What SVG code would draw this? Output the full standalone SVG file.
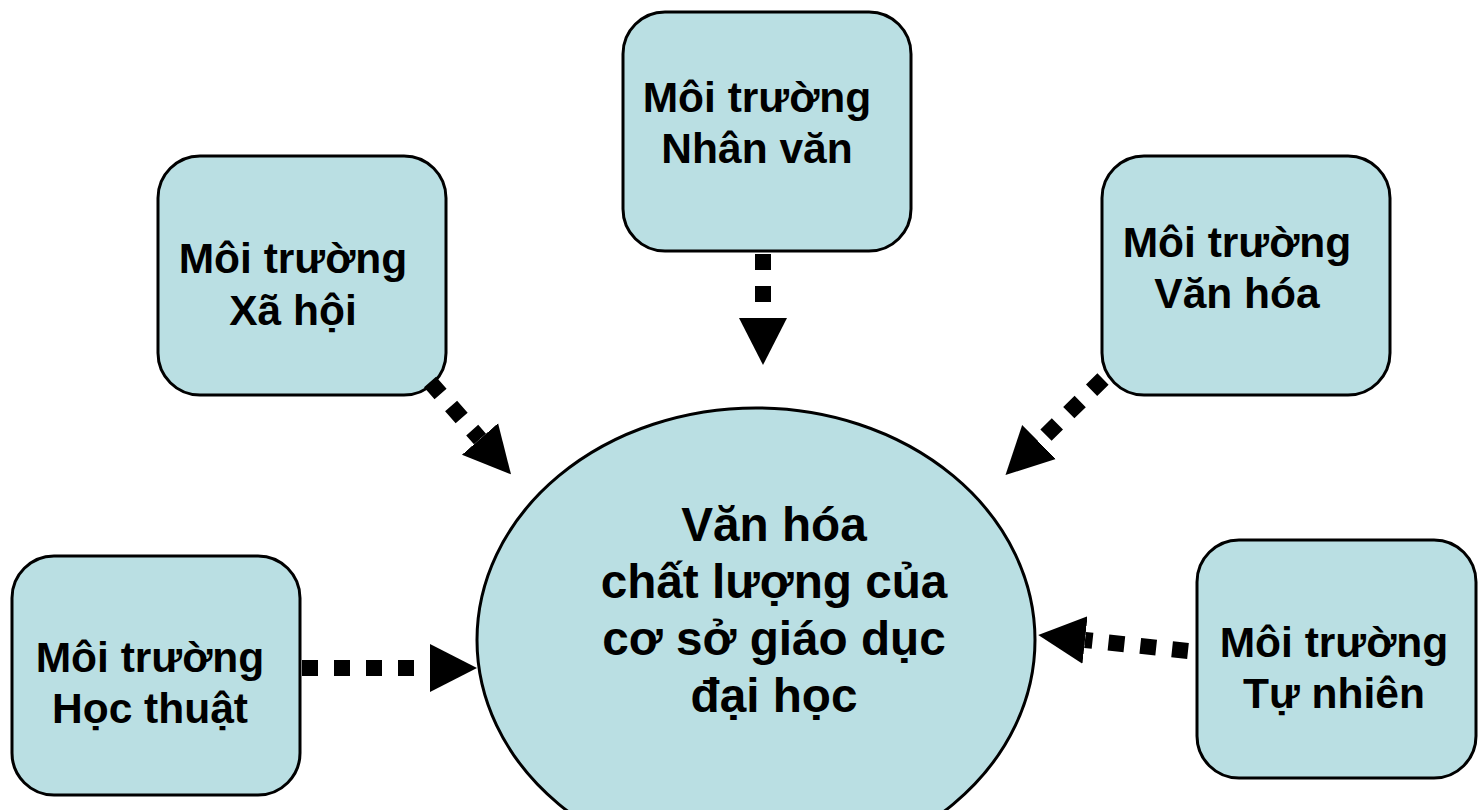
<svg xmlns="http://www.w3.org/2000/svg" width="1478" height="810" viewBox="0 0 1478 810">
<style>
.box{fill:#BADFE3;stroke:#000;stroke-width:3}
.t{font-family:"Liberation Sans",Arial,sans-serif;font-weight:bold;font-size:42.5px;fill:#000;text-anchor:middle}
.tc{font-family:"Liberation Sans",Arial,sans-serif;font-weight:bold;font-size:47.7px;fill:#000;text-anchor:middle}
.dl{fill:none;stroke:#000;stroke-width:16;stroke-dasharray:16 16;stroke-linecap:butt}
</style>
<defs>
<marker id="ah" markerUnits="userSpaceOnUse" markerWidth="48" markerHeight="50" viewBox="0 -25 48 50" refX="0" refY="0" orient="auto">
<path d="M0,-24 L47,0 L0,24 z" fill="#000"/>
</marker>
</defs>
<rect width="1478" height="810" fill="#fff"/>
<g id="center">
<ellipse cx="756" cy="640" rx="279" ry="232" class="box"/>
<text class="tc" x="774" y="541">Văn hóa</text>
<text class="tc" x="774" y="598">chất lượng của</text>
<text class="tc" x="774" y="655">cơ sở giáo dục</text>
<text class="tc" x="774" y="712">đại học</text>
</g>
<g id="xahoi">
<rect x="158" y="156" width="288" height="239" rx="42" class="box"/>
<text class="t" x="293" y="273">Môi trường</text>
<text class="t" x="293" y="325">Xã hội</text>
</g>
<g id="nhanvan">
<rect x="623" y="12" width="288" height="239" rx="42" class="box"/>
<text class="t" x="757" y="112">Môi trường</text>
<text class="t" x="757" y="163">Nhân văn</text>
</g>
<g id="vanhoa">
<rect x="1102" y="156" width="288" height="239" rx="42" class="box"/>
<text class="t" x="1237" y="257">Môi trường</text>
<text class="t" x="1237" y="308">Văn hóa</text>
</g>
<g id="hocthuat">
<rect x="12" y="556" width="288" height="239" rx="42" class="box"/>
<text class="t" x="150" y="672">Môi trường</text>
<text class="t" x="150" y="723">Học thuật</text>
</g>
<g id="tunhien">
<rect x="1197" y="540" width="279" height="238" rx="42" class="box"/>
<text class="t" x="1334" y="657">Môi trường</text>
<text class="t" x="1334" y="708">Tự nhiên</text>
</g>
<g id="connectors">
<path class="dl" d="M430,382 L480,439" marker-end="url(#ah)"/>
<path class="dl" d="M763,254 L763,318" marker-end="url(#ah)"/>
<path class="dl" d="M1103,379 L1039,442" marker-end="url(#ah)"/>
<path class="dl" d="M302,668 L430,668" marker-end="url(#ah)"/>
<path class="dl" d="M1188,651 L1085,640" marker-end="url(#ah)"/>
</g>
</svg>
